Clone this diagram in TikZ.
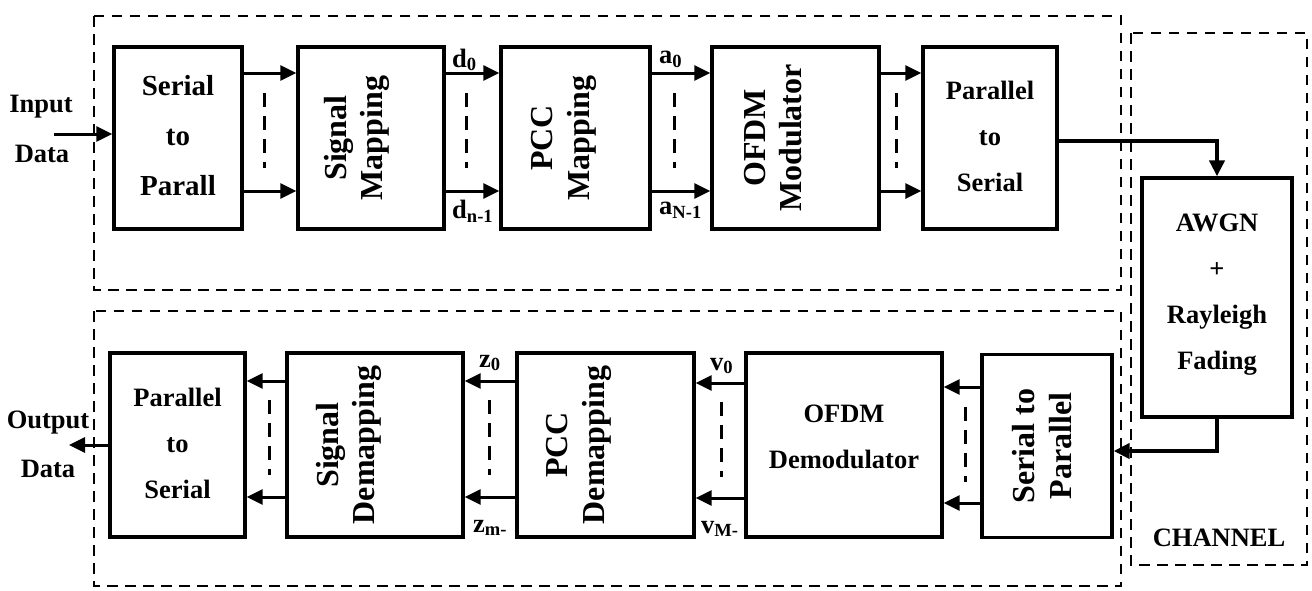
\documentclass[tikz,border=0pt]{standalone}
\usepackage{fontspec}
\setmainfont{Liberation Serif}
\usetikzlibrary{arrows.meta}
\begin{document}
\begin{tikzpicture}[x=1pt,y=-1pt,
 box/.style={draw, line width=3.3pt, inner sep=0pt},
 arr/.style={line width=3pt, -{Triangle[length=16pt,width=15pt]}},
 thickarr/.style={line width=4.5pt, -{Triangle[length=16pt,width=15pt]}},
 region/.style={draw, line width=2.3pt, dash pattern=on 10.5pt off 7.5pt},
 dots/.style={line width=3pt, dash pattern=on 14pt off 9pt},
 txt/.style={font=\fontsize{26.5}{46}\selectfont\bfseries, align=center, inner sep=0pt},
 bigtxt/.style={font=\fontsize{29}{50}\selectfont\bfseries, align=center, inner sep=0pt},
 rtxt/.style={font=\fontsize{32}{36.5}\selectfont\bfseries, align=center, rotate=90, inner sep=0pt},
 sublbl/.style={font=\fontsize{26.5}{30}\selectfont\bfseries, inner sep=0pt, anchor=west}]

\useasboundingbox (0,0) rectangle (1312,590);

% regions
\draw[region] (94,16) rectangle (1121,290);
\draw[region] (94,311) rectangle (1121,586);
\draw[region] (1131,33) rectangle (1307,565);
\node[txt] (chan) at (1219,538) {CHANNEL};

% top row boxes
\node[box, minimum width=128pt, minimum height=182pt] (s2pt) at (178,138) {};
\node[box, minimum width=146pt, minimum height=182pt] (smap) at (371,138) {};
\node[box, minimum width=149pt, minimum height=182pt] (pcc) at (575.5,138) {};
\node[box, minimum width=167pt, minimum height=182pt] (mod) at (795.5,138) {};
\node[box, minimum width=134pt, minimum height=182pt] (p2st) at (990,138) {};
\node[box, minimum width=150pt, minimum height=239pt] (awgn) at (1217,297.5) {};

% bottom row boxes
\node[box, minimum width=135pt, minimum height=184pt] (p2sb) at (177.5,445) {};
\node[box, minimum width=176pt, minimum height=184pt] (sdemap) at (375,445) {};
\node[box, minimum width=177pt, minimum height=184pt] (pccd) at (605.5,445) {};
\node[box, minimum width=196pt, minimum height=184pt] (demod) at (844,445) {};
\node[box, minimum width=130pt, minimum height=183pt] (s2pb) at (1047,446) {};

% texts
\node[bigtxt] (t1) at (178,136) {Serial\\to\\Parall};
\node[rtxt] (t2) at (357,138) {Signal\\Mapping};
\node[rtxt] (t3) at (564,138) {PCC\\Mapping};
\node[rtxt] (t4) at (773,138) {OFDM\\Modulator};
\node[txt] (t5) at (990,136) {Parallel\\to\\Serial};
\node[txt] (t6) at (1217,295) {AWGN\\+\\Rayleigh\\Fading};
\node[txt] (t7) at (177.5,443) {Parallel\\to\\Serial};
\node[rtxt] (t8) at (349,445) {Signal\\Demapping};
\node[rtxt] (t9) at (579,445) {PCC\\Demapping};
\node[txt] (t10) at (844,437) {OFDM\\Demodulator};
\node[rtxt] (t11) at (1042,446) {Serial to\\Parallel};

\node[txt] (in1) at (41,107) {Input};
\node[txt] (in2) at (42,154) {Data};
\node[txt] (out1) at (48,423) {Output};
\node[txt] (out2) at (48,469) {Data};

% coordinates
\coordinate (ya) at (0,73);
\coordinate (yb) at (0,191);
\coordinate (inp) at (54,134);
\coordinate (outp) at (69,445);
\coordinate (yc) at (0,141);
\coordinate (yd) at (0,451);

% top arrows
\draw[arr] (inp) -- (s2pt.west |- inp);
\draw[arr] (s2pt.east |- ya) -- (smap.west |- ya);
\draw[arr] (s2pt.east |- yb) -- (smap.west |- yb);
\draw[arr] (smap.east |- ya) -- (pcc.west |- ya);
\draw[arr] (smap.east |- yb) -- (pcc.west |- yb);
\draw[arr] (pcc.east |- ya) -- (mod.west |- ya);
\draw[arr] (pcc.east |- yb) -- (mod.west |- yb);
\draw[arr] (mod.east |- ya) -- (p2st.west |- ya);
\draw[arr] (mod.east |- yb) -- (p2st.west |- yb);

\draw[dots] (264,93) -- (264,168);
\draw[dots] (466,93) -- (466,168);
\draw[dots] (674,93) -- (674,168);
\draw[dots] (896,93) -- (896,168);

% channel
\draw[thickarr] (p2st.east |- yc) -| (awgn.north);
\draw[thickarr] (awgn.south) |- (s2pb.east |- yd);

% bottom arrows
\coordinate (y1) at (0,381);
\coordinate (y2) at (0,497);
\coordinate (y3) at (0,383);
\coordinate (y4) at (0,498);
\coordinate (y5) at (0,387);
\coordinate (y6) at (0,503);
\draw[arr] (s2pb.west |- y5) -- (demod.east |- y5);
\draw[arr] (s2pb.west |- y6) -- (demod.east |- y6);
\draw[arr] (demod.west |- y3) -- (pccd.east |- y3);
\draw[arr] (demod.west |- y4) -- (pccd.east |- y4);
\draw[arr] (pccd.west |- y1) -- (sdemap.east |- y1);
\draw[arr] (pccd.west |- y2) -- (sdemap.east |- y2);
\draw[arr] (sdemap.west |- y1) -- (p2sb.east |- y1);
\draw[arr] (sdemap.west |- y2) -- (p2sb.east |- y2);
\draw[arr] (p2sb.west |- outp) -- (outp);

\draw[dots] (269,400) -- (269,475);
\draw[dots] (489,400) -- (489,475);
\draw[dots] (721,402) -- (721,477);
\draw[dots] (965,407) -- (965,482);

% signal labels
\node[sublbl] (d0) at (452,60) {d\textsubscript{0}};
\node[sublbl] (dn) at (452,211) {d\textsubscript{n-1}};
\node[sublbl] (a0) at (659,59) {a\textsubscript{0}};
\node[sublbl] (aN) at (659,210) {a\textsubscript{N-1}};
\node[sublbl] (z0) at (479,363) {z\textsubscript{0}};
\node[sublbl] (zm) at (473,528) {z\textsubscript{m-}};
\node[sublbl] (v0) at (710,366) {v\textsubscript{0}};
\node[sublbl] (vM) at (701,529) {v\textsubscript{M-}};
\end{tikzpicture}
\end{document}
